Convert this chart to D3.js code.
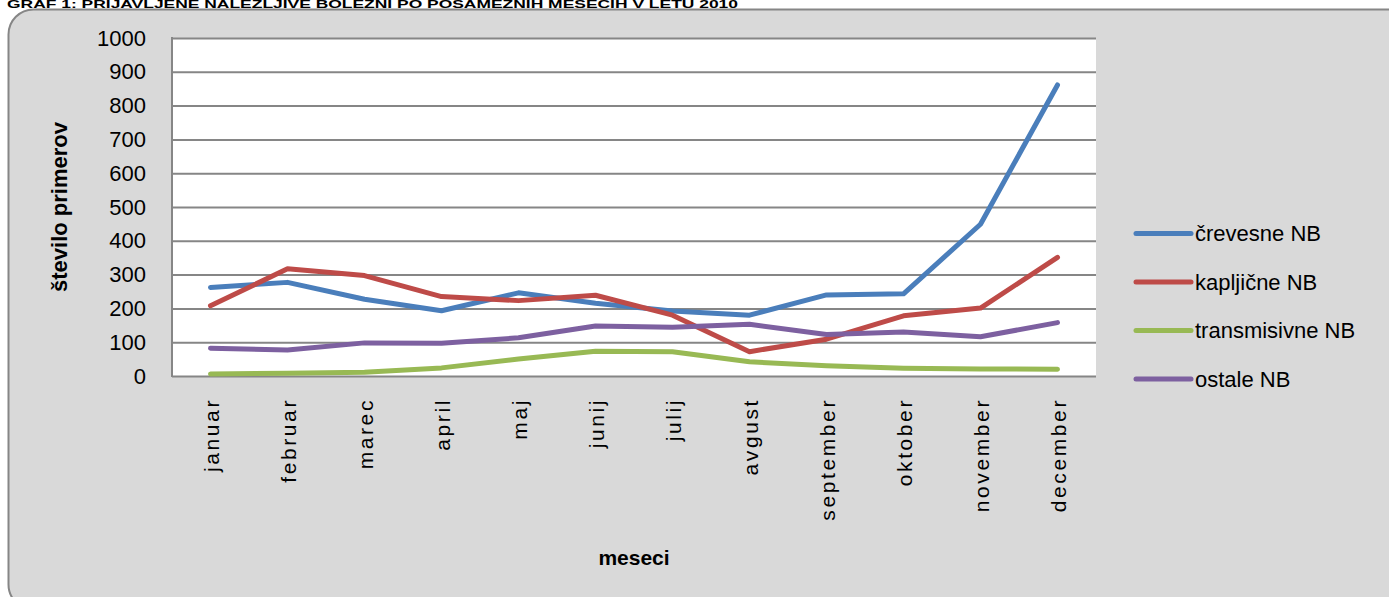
<!DOCTYPE html>
<html>
<head>
<meta charset="utf-8">
<script src="https://cdn.jsdelivr.net/npm/d3@7"></script>
<style>
  html, body { margin: 0; padding: 0; background: #ffffff; overflow: hidden; }
  svg { display: block; }
  text { font-family: "Liberation Sans", Arial, sans-serif; fill: #000; }
</style>
</head>
<body>
<svg id="chart" width="1389" height="597"></svg>
<script>
// Monthly counts of reported communicable diseases, by group
const months = ["januar", "februar", "marec", "april", "maj", "junij", "julij",
                "avgust", "september", "oktober", "november", "december"];
const crevesne      = [262, 277, 227, 193, 246, 215, 192, 180, 240, 243, 449, 861];
const kapljicne     = [208, 317, 297, 235, 223, 239, 180, 72, 109, 178, 201, 351];
const transmisivne  = [6, 8, 11, 24, 50, 73, 72, 42, 30, 23, 21, 20];
const ostale        = [82, 77, 98, 97, 113, 148, 144, 153, 123, 130, 116, 158];
const seriesNames   = ["črevesne NB", "kapljične NB", "transmisivne NB", "ostale NB"];
const seriesColors  = ["#4A7EBB", "#BE4B48", "#98B954", "#7D60A0"];
const yTicks        = [0, 100, 200, 300, 400, 500, 600, 700, 800, 900, 1000];
const titleText     = "GRAF 1: PRIJAVLJENE NALEZLJIVE BOLEZNI PO POSAMEZNIH MESECIH V LETU 2010";
const yTitle        = "število primerov";
const xTitle        = "meseci";

const series = [crevesne, kapljicne, transmisivne, ostale].map((v, i) => ({
  name: seriesNames[i], color: seriesColors[i], values: v
}));

const svg = d3.select("#chart");
const plot = { left: 172, right: 1096, top: 38, bottom: 376 };

// Title above the chart frame
svg.append("text")
  .attr("x", 7).attr("y", 8)
  .attr("font-size", 10).attr("font-weight", "bold")
  .attr("textLength", 731).attr("lengthAdjust", "spacingAndGlyphs")
  .text(titleText);

// Chart frame
svg.append("rect")
  .attr("x", 8.5).attr("y", 9.5)
  .attr("width", 1430).attr("height", 600)
  .attr("rx", 25).attr("ry", 25)
  .attr("fill", "#D9D9D9")
  .attr("stroke", "#868686").attr("stroke-width", 2);

const x = d3.scalePoint().domain(months)
  .range([plot.left, plot.right]).padding(0.5);
const y = d3.scaleLinear().domain([0, 1000]).range([plot.bottom, plot.top]);

// Plot background
svg.append("rect")
  .attr("x", plot.left).attr("y", plot.top)
  .attr("width", plot.right - plot.left).attr("height", plot.bottom - plot.top)
  .attr("fill", "#ffffff");

// Gridlines + y labels via axis
const yAxis = svg.append("g")
  .attr("transform", `translate(${plot.left},0)`)
  .call(d3.axisLeft(y).tickValues(yTicks).tickFormat(d3.format("d"))
    .tickSize(-(plot.right - plot.left)).tickPadding(26));
yAxis.select(".domain").remove();
yAxis.selectAll(".tick line").attr("stroke", "#868686").attr("stroke-width", 2);
yAxis.selectAll(".tick text")
  .attr("font-size", 22)
  .attr("font-family", "'Liberation Sans', Arial, sans-serif")
  .attr("fill", "#000");

// Left axis line
svg.append("line")
  .attr("x1", plot.left).attr("x2", plot.left)
  .attr("y1", plot.top - 1).attr("y2", plot.bottom + 1)
  .attr("stroke", "#868686").attr("stroke-width", 2);

// X labels (rotated)
const xAxis = svg.append("g")
  .attr("transform", `translate(0,${plot.bottom})`)
  .call(d3.axisBottom(x).tickSize(0));
xAxis.select(".domain").remove();
xAxis.selectAll(".tick text")
  .attr("font-size", 21)
  .attr("font-family", "'Liberation Sans', Arial, sans-serif")
  .attr("fill", "#000")
  .attr("letter-spacing", "2.6px")
  .attr("text-anchor", "end")
  .attr("transform", "rotate(-90)")
  .attr("x", -22)
  .attr("y", 0)
  .attr("dy", "0.38em");

// Lines
const line = d3.line()
  .x((d, i) => x(months[i]))
  .y(d => y(d));

svg.append("g").selectAll("path")
  .data(series)
  .join("path")
  .attr("d", d => line(d.values))
  .attr("fill", "none")
  .attr("stroke", d => d.color)
  .attr("stroke-width", 5)
  .attr("stroke-linecap", "round")
  .attr("stroke-linejoin", "round");

// Axis titles
svg.append("text")
  .attr("transform", `translate(67,${(plot.top + plot.bottom) / 2}) rotate(-90)`)
  .attr("text-anchor", "middle")
  .attr("font-size", 22).attr("font-weight", "bold")
  .text(yTitle);

svg.append("text")
  .attr("x", 634).attr("y", 565)
  .attr("text-anchor", "middle")
  .attr("font-size", 21).attr("font-weight", "bold")
  .text(xTitle);

// Legend
const legend = svg.append("g").selectAll("g")
  .data(series)
  .join("g")
  .attr("transform", (d, i) => `translate(1136,${233.5 + i * 48.5})`);
legend.append("line")
  .attr("x1", 0).attr("x2", 55)
  .attr("stroke", d => d.color)
  .attr("stroke-width", 5)
  .attr("stroke-linecap", "round");
legend.append("text")
  .attr("x", 59).attr("dy", "0.36em")
  .attr("font-size", 22)
  .text(d => d.name);
</script>
</body>
</html>
